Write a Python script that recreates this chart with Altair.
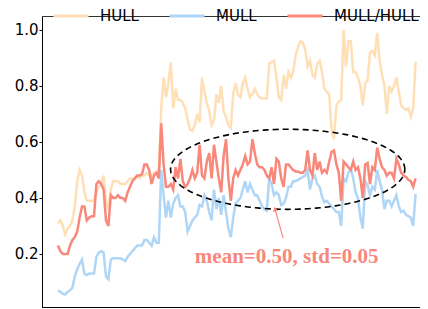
import altair as alt
import pandas as pd
import numpy as np

# ---------------- data ----------------
hull = [0.31,0.32,0.30,0.27,0.29,0.30,0.32,0.37,0.46,0.50,0.48,0.42,0.39,0.39,0.39,0.39,0.42,0.44,0.45,0.48,
        0.39,0.36,0.43,0.46,0.46,0.46,0.45,0.45,0.45,0.46,0.47,0.47,0.47,0.48,0.47,0.48,0.48,
        0.49,0.48,0.48,0.49,0.49,0.50,0.72,0.83,0.76,0.81,0.885,0.72,0.79,0.75,0.75,0.74,0.72,0.68,0.645,
        0.64,0.66,0.70,0.67,0.83,0.78,0.74,0.71,0.66,0.68,0.77,0.74,0.80,0.71,0.69,0.66,0.65,0.77,0.81,
        0.77,0.76,0.81,0.83,0.79,0.76,0.77,0.79,0.77,0.76,0.755,0.755,0.755,0.88,0.885,0.89,0.83,0.76,0.75,
        0.84,0.79,0.85,0.83,0.85,0.91,0.94,0.96,0.955,0.93,0.87,0.89,0.84,0.83,0.88,0.89,0.85,0.79,
        0.78,0.77,0.64,0.61,0.73,0.745,0.75,1.0,0.87,0.96,0.96,0.85,0.85,0.83,0.80,0.73,0.81,0.82,0.92,
        0.925,0.91,0.99,0.89,0.84,0.80,0.70,0.80,0.78,0.80,0.83,0.78,0.73,0.72,0.715,0.72,0.69,0.72,0.886]

mull = [0.07,0.065,0.058,0.055,0.065,0.07,0.08,0.12,0.145,0.165,0.18,0.13,0.125,0.13,0.13,0.13,0.19,0.205,0.21,0.205,
        0.12,0.11,0.18,0.185,0.185,0.185,0.185,0.18,0.175,0.19,0.20,0.21,0.22,0.23,0.23,0.23,0.25,
        0.25,0.24,0.23,0.26,0.24,0.24,0.50,0.41,0.33,0.39,0.33,0.38,0.40,0.41,0.37,0.37,0.35,0.28,0.30,
        0.32,0.33,0.34,0.375,0.37,0.41,0.39,0.35,0.32,0.43,0.36,0.40,0.34,0.41,0.35,0.29,0.26,0.33,0.38,
        0.39,0.40,0.43,0.46,0.42,0.45,0.43,0.41,0.41,0.39,0.37,0.36,0.355,0.47,0.45,0.41,0.42,0.41,0.375,
        0.38,0.40,0.44,0.44,0.46,0.46,0.465,0.47,0.475,0.48,0.50,0.43,0.47,0.48,0.45,0.44,0.405,0.385,
        0.39,0.38,0.37,0.36,0.35,0.35,0.30,0.47,0.46,0.49,0.505,0.47,0.42,0.40,0.33,0.29,0.46,0.445,0.41,
        0.44,0.43,0.50,0.46,0.43,0.36,0.39,0.39,0.37,0.39,0.41,0.37,0.35,0.355,0.34,0.335,0.33,0.30,0.415]

ratio = [0.23,0.21,0.20,0.20,0.20,0.23,0.25,0.26,0.28,0.33,0.37,0.37,0.32,0.33,0.335,0.335,0.45,0.46,0.45,0.43,
         0.32,0.30,0.41,0.40,0.40,0.41,0.40,0.40,0.39,0.42,0.44,0.46,0.47,0.48,0.48,0.485,0.52,
         0.52,0.50,0.45,0.48,0.49,0.47,0.667,0.52,0.44,0.44,0.45,0.43,0.51,0.47,0.54,0.46,0.44,0.45,0.47,
         0.50,0.47,0.49,0.59,0.48,0.47,0.53,0.56,0.47,0.59,0.53,0.47,0.42,0.55,0.61,0.47,0.39,0.47,0.50,
         0.48,0.50,0.52,0.55,0.52,0.53,0.61,0.56,0.52,0.51,0.51,0.50,0.48,0.47,0.51,0.45,0.54,0.53,0.47,
         0.44,0.52,0.52,0.51,0.50,0.495,0.495,0.49,0.49,0.50,0.57,0.50,0.48,0.56,0.50,0.53,0.49,0.50,
         0.49,0.53,0.565,0.57,0.52,0.49,0.39,0.53,0.52,0.51,0.50,0.53,0.50,0.51,0.47,0.40,0.52,0.525,0.45,
         0.51,0.50,0.58,0.54,0.51,0.50,0.48,0.49,0.49,0.47,0.54,0.52,0.49,0.48,0.475,0.465,0.46,0.44,0.47]

series_names = ["HULL", "MULL", "MULL/HULL"]
series_colors = ["#FEDFB6", "#AFD6F6", "#F9877A"]
y_ticks = [0.2, 0.4, 0.6, 0.8, 1.0]
annotation_text = "mean=0.50, std=0.05"
text_pos = {"idx": 95.3, "value": 0.168}
arrow_tail = {"idx": 93.8, "value": 0.257}
arrow_tip = {"idx": 90.4, "value": 0.361}
ellipse = {"cx": 95.7, "cy": 0.5025, "a": 48.8, "b": 0.143}
salmon = "#F9877A"

# ---------------- tables ----------------
rows = []
for name, vals in zip(series_names, [hull, mull, ratio]):
    for i, v in enumerate(vals):
        rows.append({"idx": i, "value": v, "series": name})
df = pd.DataFrame(rows)

t = np.linspace(0, 2 * np.pi, 181)
ell_df = pd.DataFrame({
    "idx": ellipse["cx"] + ellipse["a"] * np.cos(t),
    "value": ellipse["cy"] + ellipse["b"] * np.sin(t),
    "k": np.arange(len(t)),
})
arrow_df = pd.DataFrame([dict(arrow_tail, k=0), dict(arrow_tip, k=1)])
tip_df = pd.DataFrame([arrow_tip])
text_df = pd.DataFrame([dict(text_pos, label=annotation_text)])

x_scale = alt.Scale(domain=[-6.67, 150.83], nice=False, zero=False)
y_scale = alt.Scale(domain=[0.0107, 1.05], nice=False, zero=False)
color_scale = alt.Scale(domain=series_names, range=series_colors)

legend = alt.Legend(orient="none", legendX=10, legendY=-19, direction="horizontal", title=None,
                    symbolType="stroke", symbolSize=1225, symbolStrokeWidth=3,
                    labelFontSize=15, labelFont="DejaVu Sans", labelColor="black",
                    labelOffset=10, columnPadding=24, padding=0)

x_bottom = alt.X("idx:Q", scale=x_scale,
                 axis=alt.Axis(orient="bottom", labels=False, ticks=False, title=None, grid=False,
                               domainColor="black", domainWidth=1))
x_top = alt.X("idx:Q", scale=x_scale,
              axis=alt.Axis(orient="top", labels=False, ticks=False, title=None, grid=False,
                            domainColor="#333333", domainWidth=1))
y_enc = alt.Y("value:Q", scale=y_scale,
              axis=alt.Axis(values=y_ticks, format=".1f", tickSize=3, tickColor="black",
                            labelFontSize=15, labelFont="DejaVu Sans", labelColor="black",
                            labelPadding=1, domainColor="black", grid=False, title=None))

layers = []
for k, name in enumerate(series_names):
    layers.append(
        alt.Chart(df).transform_filter(alt.datum.series == name)
        .mark_line(strokeWidth=2.5)
        .encode(x=x_top if k == 1 else x_bottom, y=y_enc,
                color=alt.Color("series:N", scale=color_scale, legend=legend))
    )

ell = alt.Chart(ell_df).mark_line(color="black", strokeWidth=1.6, strokeDash=[6, 4]).encode(
    x=x_bottom, y=y_enc, order="k:Q")
arrow = alt.Chart(arrow_df).mark_line(color=salmon, strokeWidth=1.2).encode(
    x=x_bottom, y=y_enc, order="k:Q")
tip = alt.Chart(tip_df).mark_point(shape="triangle-up", filled=True, color=salmon, size=30,
                                   angle=345, opacity=1).encode(x=x_bottom, y=y_enc)
txt = alt.Chart(text_df).mark_text(font="Liberation Serif", fontWeight="bold", fontSize=21,
                                   color=salmon, align="center", baseline="alphabetic").encode(
    x=x_bottom, y=y_enc, text="label:N")

chart = alt.layer(*layers, ell, arrow, tip, txt).properties(
    width=378, height=291,
    padding={"left": 34, "top": 8, "right": 0, "bottom": 2},
    autosize=alt.AutoSizeParams(type="none"),
).configure_view(stroke=None).configure(background="white")

chart.save("out.html", embed_options={"renderer": "svg", "actions": False})
